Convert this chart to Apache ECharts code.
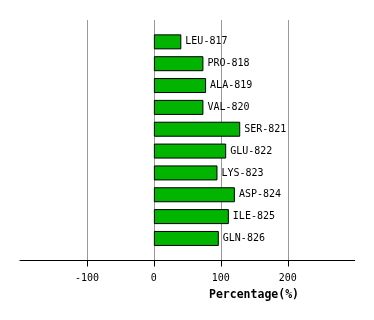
<!DOCTYPE html>
<html><head><meta charset="utf-8">
<script src="https://cdn.jsdelivr.net/npm/echarts@6/dist/echarts.min.js"></script>
<style>html,body{margin:0;padding:0;background:#fff}#c{width:374px;height:320px}</style>
</head><body><div id="c"></div>
<script>
const categories = ['LEU-817','PRO-818','ALA-819','VAL-820','SER-821','GLU-822','LYS-823','ASP-824','ILE-825','GLN-826'];
const values = [41, 74, 78, 74, 129, 108, 95, 121, 112, 97];
const tickValues = [-100, 0, 100, 200];
const axisTitle = 'Percentage(%)';

const font = '"DejaVu Sans Mono", monospace';
const chart = echarts.init(document.getElementById('c'), null, {renderer:'canvas'});
const yData = [''].concat(categories, ['']);
const sData = [null].concat(values, [null]);
const lastIdx = yData.length - 1;
chart.setOption({
  animation: false,
  grid: {left: 20, right: 19.3, top: 20, bottom: 59.7, containLabel: false},
  xAxis: {
    type: 'value', position: 'bottom', min: -200, max: 300, interval: 100,
    axisLine: {show: true, onZero: false, lineStyle: {color: '#000', width: 1}},
    axisTick: {show: true, inside: false, length: 6, lineStyle: {color: '#000', width: 1}, customValues: tickValues},
    axisLabel: {show: true, color: '#000', fontFamily: font, fontSize: 10, margin: 13, customValues: tickValues},
    splitLine: {show: true, lineStyle: {color: '#999', width: 1}}
  },
  yAxis: {
    type: 'category', inverse: true, boundaryGap: false, data: yData,
    axisLine: {show: false}, axisTick: {show: false}, axisLabel: {show: false}, splitLine: {show: false}
  },
  graphic: [{
    type: 'text', x: 254, y: 295,
    style: {text: axisTitle, fill: '#000', font: 'bold 11.5px ' + font, textAlign: 'center', textVerticalAlign: 'middle'}
  }],
  series: [{
    type: 'bar', data: sData, barWidth: 15,
    itemStyle: {color: '#00b400', borderColor: '#000', borderWidth: 1},
    label: {show: true, position: 'right', distance: 4, color: '#000', fontFamily: font, fontSize: 10,
      formatter: p => yData[p.dataIndex]}
  }, {
    type: 'custom', clip: false, silent: true, z: 5,
    data: tickValues.map(v => [v, lastIdx]),
    encode: {x: 0, y: 1},
    renderItem: (params, api) => {
      const p = api.coord([api.value(0), api.value(1)]);
      const x = Math.round(p[0]) + 0.5;
      return {type: 'line', shape: {x1: x, y1: p[1], x2: x, y2: p[1] + 6},
        style: {stroke: '#000', lineWidth: 1}};
    }
  }]
});
</script></body></html>
